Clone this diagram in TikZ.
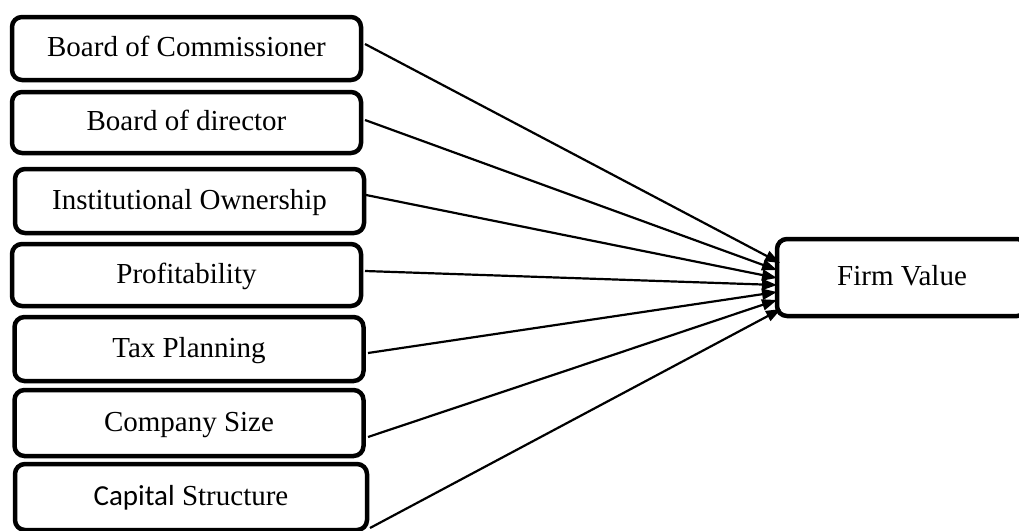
\documentclass[tikz,border=0pt]{standalone}
\usepackage{fontspec}
\setmainfont{Liberation Serif}
\newfontfamily\calibrifont{Carlito}
\usetikzlibrary{arrows.meta,calc}
\begin{document}
\begin{tikzpicture}[x=1pt,y=-1pt,
  varbox/.style={draw=black,line width=4.5pt,rounded corners=10pt,fill=white,
    minimum width=349pt,inner sep=0pt,text height=24pt,text depth=8pt,
    font=\fontsize{29}{33}\selectfont},
  conn/.style={line width=2.2pt,-{Triangle[length=15pt,width=11pt]}}]
\useasboundingbox (0,0) rectangle (1019,530);
\node[varbox,minimum height=63pt] (b1) at (186.5,48.5) {Board of Commissioner};
\node[varbox,minimum height=61pt] (b2) at (186.5,122.5) {Board of director};
\node[varbox,minimum height=64pt] (b3) at (189.5,201) {Institutional Ownership};
\node[varbox,minimum height=62pt] (b4) at (186.5,275) {Profitability};
\node[varbox,minimum height=64pt] (b5) at (189,349) {Tax Planning};
\node[varbox,minimum height=66pt] (b6) at (189,423) {Company Size};
\node[varbox,minimum height=66pt,minimum width=352pt] (b7) at (191,497) {{\calibrifont Capital} Structure};
\node[varbox,minimum height=77pt,minimum width=250pt] (fv) at (902,277.5) {Firm Value};
\coordinate (s1) at (365,44);
\coordinate (s2) at (365,120);
\coordinate (s3) at (366,195);
\coordinate (s4) at (365,271);
\coordinate (s5) at (368,353);
\coordinate (s6) at (368,437);
\coordinate (s7) at (370,528);
\coordinate (e1) at (780,263);
\coordinate (e2) at (777,270);
\coordinate (e3) at (777,278);
\coordinate (e4) at (777,285);
\coordinate (e5) at (777,292);
\coordinate (e6) at (777,300);
\coordinate (e7) at (781,309);
\foreach \i in {1,...,7}{\draw[conn] (s\i) -- (e\i);}
\end{tikzpicture}
\end{document}
